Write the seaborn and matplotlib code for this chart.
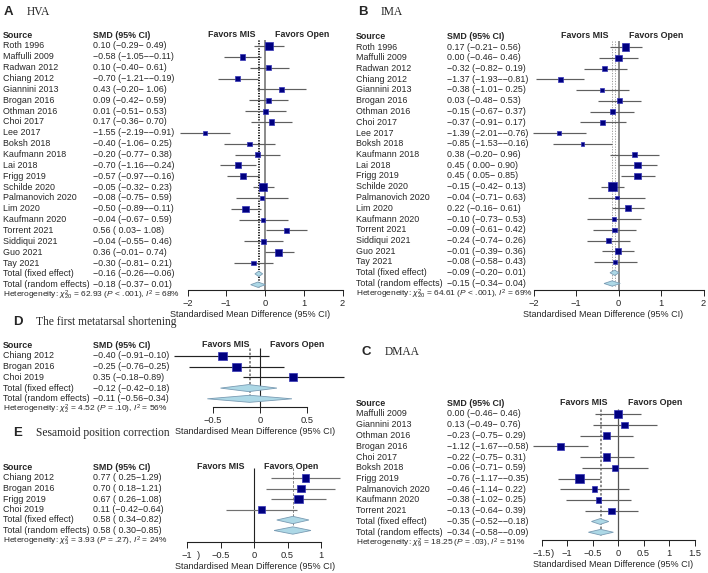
import numpy as np
import pandas as pd
import seaborn as sns
import matplotlib
matplotlib.use("Agg")
import matplotlib.pyplot as plt
from matplotlib import transforms

# ---- data ----
studies_ab = ["Roth 1996", "Maffulli 2009", "Radwan 2012", "Chiang 2012", "Giannini 2013",
              "Brogan 2016", "Othman 2016", "Choi 2017", "Lee 2017", "Boksh 2018",
              "Kaufmann 2018", "Lai 2018", "Frigg 2019", "Schilde 2020", "Palmanovich 2020",
              "Lim 2020", "Kaufmann 2020", "Torrent 2021", "Siddiqui 2021", "Guo 2021", "Tay 2021"]

hva_smd = [0.10, -0.58, 0.10, -0.70, 0.43, 0.09, 0.01, 0.17, -1.55, -0.40, -0.20,
           -0.70, -0.57, -0.05, -0.08, -0.50, -0.04, 0.56, -0.04, 0.36, -0.30]
hva_lo = [-0.29, -1.05, -0.40, -1.21, -0.20, -0.42, -0.51, -0.36, -2.19, -1.06, -0.77,
          -1.16, -0.97, -0.32, -0.75, -0.89, -0.67, 0.03, -0.55, -0.01, -0.81]
hva_hi = [0.49, -0.11, 0.61, -0.19, 1.06, 0.59, 0.53, 0.70, -0.91, 0.25, 0.38,
          -0.24, -0.16, 0.23, 0.59, -0.11, 0.59, 1.08, 0.46, 0.74, 0.21]
hva_w = [8.7, 5.4, 4.3, 4.3, 3.1, 4.3, 4.3, 4.3, 2.6, 2.6, 3.6,
         5.4, 5.4, 12.4, 2.1, 6.3, 2.6, 3.6, 3.6, 7.7, 3.6]
hva_fixed = (-0.16, -0.26, -0.06)
hva_random = (-0.18, -0.37, 0.01)
hva_het = ("20", "62.93", "<", ".001", "68")

ima_smd = [0.17, 0.00, -0.32, -1.37, -0.38, 0.03, -0.15, -0.37, -1.39, -0.85, 0.38,
           0.45, 0.45, -0.15, -0.04, 0.22, -0.10, -0.09, -0.24, -0.01, -0.08]
ima_lo = [-0.21, -0.46, -0.82, -1.93, -1.01, -0.48, -0.67, -0.91, -2.01, -1.53, -0.20,
          0.00, 0.05, -0.42, -0.71, -0.16, -0.73, -0.61, -0.74, -0.39, -0.58]
ima_hi = [0.56, 0.46, 0.19, -0.81, 0.25, 0.53, 0.37, 0.17, -0.76, -0.16, 0.96,
          0.90, 0.85, 0.13, 0.63, 0.61, 0.53, 0.42, 0.26, 0.36, 0.43]
ima_w = [8.8, 6.4, 4.3, 3.6, 2.7, 4.3, 4.3, 4.3, 2.7, 2.1, 4.3,
         6.4, 6.4, 12.5, 2.1, 5.5, 2.7, 3.1, 3.6, 6.4, 3.6]
ima_fixed = (-0.09, -0.20, 0.01)
ima_random = (-0.15, -0.34, 0.04)
ima_het = ("20", "64.61", "<", ".001", "69")

studies_c = ["Maffulli 2009", "Giannini 2013", "Othman 2016", "Brogan 2016", "Choi 2017",
             "Boksh 2018", "Frigg 2019", "Palmanovich 2020", "Kaufmann 2020", "Torrent 2021"]
dmaa_smd = [0.00, 0.13, -0.23, -1.12, -0.22, -0.06, -0.76, -0.46, -0.38, -0.13]
dmaa_lo = [-0.46, -0.49, -0.75, -1.67, -0.75, -0.71, -1.17, -1.14, -1.02, -0.64]
dmaa_hi = [0.46, 0.76, 0.29, -0.58, 0.31, 0.59, -0.35, 0.22, 0.25, 0.39]
dmaa_w = [12.6, 8.6, 10.7, 10.7, 10.7, 6.7, 18.1, 6.7, 6.7, 8.6]
dmaa_fixed = (-0.35, -0.52, -0.18)
dmaa_random = (-0.34, -0.58, -0.09)
dmaa_het = ("9", "18.25", "=", ".03", "51")

studies_d = ["Chiang 2012", "Brogan 2016", "Choi 2019"]
short_smd = [-0.40, -0.25, 0.35]
short_lo = [-0.91, -0.76, -0.18]
short_hi = [0.10, 0.25, 0.89]
short_w = [37.6, 31.2, 31.2]
short_fixed = (-0.12, -0.42, 0.18)
short_random = (-0.11, -0.56, 0.34)
short_het = ("2", "4.52", "=", ".10", "56")

studies_e = ["Chiang 2012", "Brogan 2016", "Frigg 2019", "Choi 2019"]
ses_smd = [0.77, 0.70, 0.67, 0.11]
ses_lo = [0.25, 0.18, 0.26, -0.42]
ses_hi = [1.29, 1.21, 1.08, 0.64]
ses_w = [23.7, 23.7, 33.7, 18.9]
ses_fixed = (0.58, 0.34, 0.82)
ses_random = (0.58, 0.30, 0.85)
ses_het = ("3", "3.93", "=", ".27", "24")

ticks_ab = [-2, -1, 0, 1, 2]
ticks_c = [-1.5, -1, -0.5, 0, 0.5, 1, 1.5]
ticks_d = [-0.5, 0, 0.5]
ticks_e = [-1, -0.5, 0, 0.5, 1]

# ---- style ----
sns.set_style("ticks")
plt.rcParams["font.family"] = ["Liberation Sans", "DejaVu Sans"]
plt.rcParams["mathtext.fontset"] = "custom"
plt.rcParams["mathtext.rm"] = "Liberation Sans"
plt.rcParams["mathtext.it"] = "Liberation Sans:italic"

W, H = 708, 573
FS = 6.4
fig = plt.figure(figsize=(W / 100, H / 100), dpi=100)


def num(v):
    return f"{v:.2f}".replace("-", "\u2212")


def ci_text(e, l, h, space_hi=True):
    ls = num(l) if l < 0 else " " + num(l)
    hs = num(h) if (h < 0 or not space_hi) else " " + num(h)
    return f"{num(e)} ({ls}\u2212{hs})"


def tick_lab(v):
    return ("%g" % v).replace("-", "\u2212")


def forest(lay, studies, smd, lo, hi, w, fixed, rand, het, ticks, space_hi=True):
    n = len(studies)
    L, R, T, B = lay["left"], lay["right"], lay["top"], lay["axis_y"]
    ax = fig.add_axes([L / W, 1 - B / H, (R - L) / W, (B - T) / H])
    ybot = (B - lay["row0"]) / lay["pitch"]

    df = pd.DataFrame({"study": studies, "smd": smd, "lo": lo, "hi": hi, "w": w,
                       "row": np.arange(n)})
    # box side in points, area proportional to weight
    side = lay["box"] * np.sqrt(df["w"] / df["w"].max()) / (100 / 72)
    df["area"] = side ** 2

    ax.hlines(df["row"], df["lo"], df["hi"], color=lay["ci_col"], lw=0.85, zorder=2, clip_on=False)
    sns.scatterplot(data=df, x="smd", y="row", size="area", marker="s",
                    sizes=(df["area"].min(), df["area"].max()),
                    size_norm=(df["area"].min(), df["area"].max()),
                    color="#000080", edgecolor="#3535b5", linewidth=0.5,
                    legend=False, ax=ax, zorder=4, clip_on=False)

    dh = lay["dh"]
    for k, (e, l, h) in enumerate([fixed, rand]):
        y = n + k
        ax.fill([l, e, h, e], [y, y - dh, y, y + dh], facecolor="#add8e6",
                edgecolor="#7a9cb4", lw=0.6, zorder=3, clip_on=False)

    # reference lines
    ax.vlines(0, lay["line_top"], ybot, color=lay["zero_col"], lw=lay["zero_lw"], zorder=1)
    for e in (fixed[0], rand[0]):
        ax.vlines(e, lay["line_top"], n + 1 + dh, color=lay["ref_col"], lw=0.7,
                  linestyles=lay["ref_ls"], zorder=1)

    ax.set_xlim((L - lay["x0"]) / lay["scale"], (R - lay["x0"]) / lay["scale"])
    ax.set_ylim(ybot, (T - lay["row0"]) / lay["pitch"])
    for s in ("left", "right", "top"):
        ax.spines[s].set_visible(False)
    ax.spines["bottom"].set_bounds(ticks[0], ticks[-1])
    ax.spines["bottom"].set_color("#222222")
    ax.spines["bottom"].set_linewidth(0.8)
    ax.set_yticks([])
    ax.set_xticks(ticks)
    ax.set_xticklabels([tick_lab(t) for t in ticks])
    ax.tick_params(axis="x", direction="out", length=4, width=0.7, color="#222222",
                   labelsize=6.7, pad=2.5, bottom=True)
    ax.set_ylabel("")
    ax.set_xlabel("Standardised Mean Difference (95% CI)", fontsize=6.5, labelpad=1.5)

    tr = transforms.blended_transform_factory(fig.transFigure, ax.transData)
    sx, cx = lay["src_x"] / W, lay["smd_x"] / W
    ax.text(sx, -1, "Source", transform=tr, fontsize=FS, weight="bold", va="center")
    ax.text(cx, -1, "SMD (95% CI)", transform=tr, fontsize=FS, weight="bold", va="center")
    ax.annotate("Favors MIS", xy=(0, -1.05), xytext=(-10, 0), textcoords="offset pixels",
                ha="right", va="center", fontsize=FS, weight="bold", annotation_clip=False)
    ax.annotate("Favors Open", xy=(0, -1.05), xytext=(10, 0), textcoords="offset pixels",
                ha="left", va="center", fontsize=FS, weight="bold", annotation_clip=False)
    for i in range(n):
        ax.text(sx, i, studies[i], transform=tr, fontsize=FS, va="center")
        ax.text(cx, i, ci_text(smd[i], lo[i], hi[i], space_hi), transform=tr,
                fontsize=FS, va="center")
    for k, (lab, vals) in enumerate([("Total (fixed effect)", fixed),
                                     ("Total (random effects)", rand)]):
        ax.text(sx, n + k, lab, transform=tr, fontsize=FS, va="center")
        ax.text(cx, n + k, ci_text(*vals, space_hi), transform=tr, fontsize=FS, va="center")
    df_, q, op, p, i2 = het
    ax.text(sx, n + 2, rf"Heterogeneity: $\chi^2_{{{df_}}}$ = {q} ($P$ {op} {p}), $I^2$ = {i2}%",
            transform=tr, fontsize=6.0, va="center")
    return ax


def title(x, y, letter, name):
    fig.text(x / W, 1 - y / H, letter, fontsize=9.5, weight="bold", va="center")
    fig.text((x + 23) / W, 1 - y / H, name, fontsize=8.3, va="center",
             family=["Liberation Serif", "DejaVu Serif"])


base = dict(ci_col="#5f5f5f", box=8.8, dh=0.25)

lay_a = dict(base, left=150, right=350, top=28, axis_y=290, x0=265, scale=38.75,
             row0=46, pitch=10.85, src_x=3, smd_x=93, line_top=-0.55,
             zero_col="#8a8a8a", zero_lw=1.4, ref_col="#111111", ref_ls=(0, (1.2, 1.5)))
lay_b = dict(base, left=500, right=706, top=28, axis_y=290, x0=618.5, scale=42.5,
             row0=47, pitch=10.75, src_x=356, smd_x=447, line_top=-0.55,
             zero_col="#8a8a8a", zero_lw=1.4, ref_col="#9a9a9a", ref_ls=(0, (1.2, 1.5)))
lay_c = dict(base, left=520, right=706, top=398, axis_y=540, x0=618, scale=51,
             row0=414, pitch=10.75, src_x=356, smd_x=447, line_top=-0.45, box=9.4, dh=0.27,
             zero_col="#555555", zero_lw=0.9, ref_col="#8a8a8a", ref_ls=(0, (2.5, 1.8)))
lay_d = dict(base, left=160, right=350, top=340, axis_y=407, x0=260, scale=94,
             row0=356, pitch=10.7, src_x=3, smd_x=93, line_top=-0.75, dh=0.33,
             ci_col="#222222", zero_col="#222222", zero_lw=0.8, ref_col="#8a8a8a",
             ref_ls=(0, (2.5, 1.8)))
lay_e = dict(base, left=160, right=350, top=462, axis_y=542, x0=254, scale=67,
             row0=478, pitch=10.5, src_x=3, smd_x=93, line_top=-1.0, dh=0.35,
             ci_col="#707070", zero_col="#222222", zero_lw=0.8, ref_col="#8a8a8a",
             ref_ls=(0, (2.5, 1.8)))

forest(lay_a, studies_ab, hva_smd, hva_lo, hva_hi, hva_w, hva_fixed, hva_random, hva_het, ticks_ab)
forest(lay_b, studies_ab, ima_smd, ima_lo, ima_hi, ima_w, ima_fixed, ima_random, ima_het, ticks_ab)
ax_c = forest(lay_c, studies_c, dmaa_smd, dmaa_lo, dmaa_hi, dmaa_w, dmaa_fixed, dmaa_random,
              dmaa_het, ticks_c)
forest(lay_d, studies_d, short_smd, short_lo, short_hi, short_w, short_fixed, short_random,
       short_het, ticks_d, space_hi=False)
ax_e = forest(lay_e, studies_e, ses_smd, ses_lo, ses_hi, ses_w, ses_fixed, ses_random,
              ses_het, ticks_e, space_hi=False)

# stray brackets next to the first tick label in C and E
for ax, t in ((ax_c, ticks_c[0]), (ax_e, ticks_e[0])):
    ax.annotate(")", xy=(t, 0), xycoords=("data", "axes fraction"), xytext=(11, -13),
                textcoords="offset pixels", ha="center", va="center", fontsize=6.7,
                annotation_clip=False)

title(4, 12, "A", "HVA")
title(358, 12, "B", "IMA")
title(362, 352, "C", "DMAA")
title(13, 322, "D", "The first metatarsal shortening")
title(13, 433, "E", "Sesamoid position correction")

fig.savefig("out.png", dpi=100)
